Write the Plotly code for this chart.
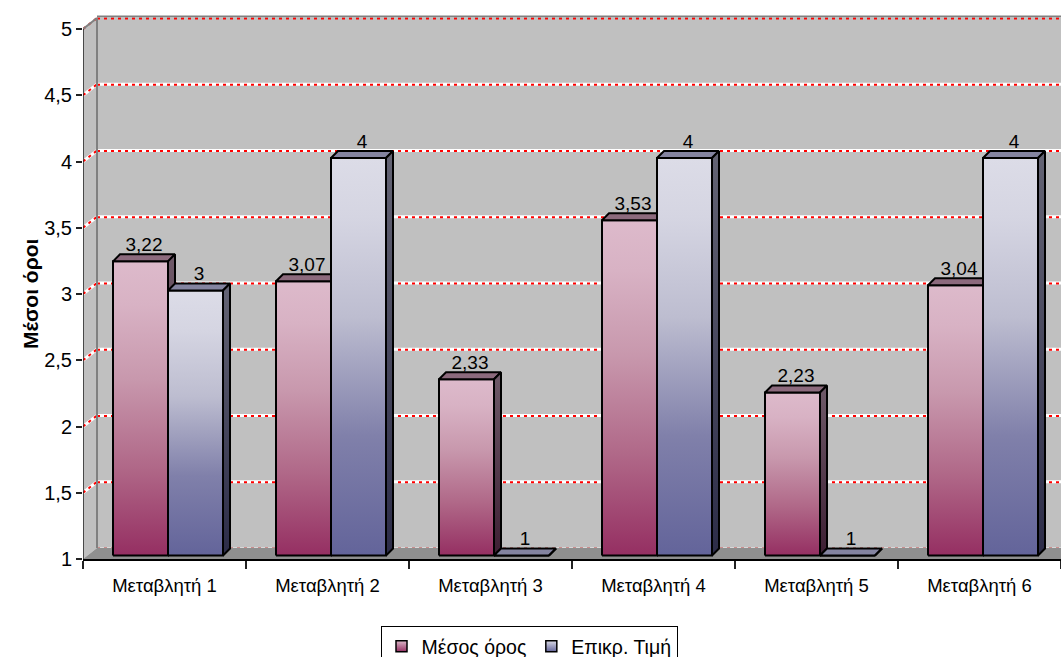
import plotly.graph_objects as go

# ---- data -------------------------------------------------------------
categories = ["Μεταβλητή 1", "Μεταβλητή 2", "Μεταβλητή 3",
              "Μεταβλητή 4", "Μεταβλητή 5", "Μεταβλητή 6"]
mean_values = [3.22, 3.07, 2.33, 3.53, 2.23, 3.04]
critical_values = [3, 4, 1, 4, 1, 4]
series_names = ["Μέσος όρος", "Επικρ. Τιμή"]
y_ticks = [1, 1.5, 2, 2.5, 3, 3.5, 4, 4.5, 5]
y_title = "Μέσοι όροι"

# ---- geometry ---------------------------------------------------------
W, H = 1061, 657
M_L, M_R, M_T, M_B = 83, 0, 14, 98
plot_w = W - M_L - M_R
plot_h = H - M_T - M_B
PX_PER_Y = 132.5                       # pixels per y unit
Y_MIN = 1
Y_MAX = Y_MIN + plot_h / PX_PER_Y
X_MIN, X_MAX = -0.5, len(categories) - 0.5
PX_PER_X = plot_w / (X_MAX - X_MIN)

def dx(px):
    return px / PX_PER_X

def dy(px):
    return px / PX_PER_Y

WALL_DX, WALL_DY = dx(14), dy(11)      # depth of the back wall
FRONT_DX, FRONT_DY = dx(3.5), dy(3.5)  # bars' front plane
BAR_DX, BAR_DY = dx(7), dy(7)          # bar depth
BAR_W = dx(55)

FONT = "Liberation Sans, Arial, sans-serif"

MEAN_FRONT = [[0, "#952f62"], [0.3, "#b06888"], [0.6, "#c898ad"],
              [0.85, "#d8b2c4"], [1, "#ddbacb"]]
CRIT_FRONT = [[0, "#63649a"], [0.3, "#8080aa"], [0.6, "#bdbdd0"],
              [0.85, "#d5d5e2"], [1, "#dcdce7"]]
MEAN_SIDE = [[0, "#3d1f33"], [1, "#6f5a69"]]
CRIT_SIDE = [[0, "#2c2c48"], [1, "#646474"]]
MEAN_TOP = "#8c6a7d"
CRIT_TOP = "#8484a0"

fig = go.Figure()


def poly(xs, ys, fill=None, scale=None, line_color="black", line_width=2):
    kw = dict(x=xs + [xs[0]], y=ys + [ys[0]], mode="lines", fill="toself",
              line=dict(color=line_color, width=line_width),
              hoverinfo="skip", showlegend=False)
    if scale is not None:
        kw["fillgradient"] = dict(type="vertical", colorscale=scale)
    else:
        kw["fillcolor"] = fill
    fig.add_trace(go.Scatter(**kw))


def seg(x0, y0, x1, y1, color, width, dash="solid"):
    fig.add_trace(go.Scatter(x=[x0, x1], y=[y0, y1], mode="lines",
                             line=dict(color=color, width=width, dash=dash),
                             hoverinfo="skip", showlegend=False))


# ---- walls and floor --------------------------------------------------
x0 = X_MIN
wall_top = y_ticks[-1]
# back wall
poly([x0 + WALL_DX, X_MAX, X_MAX, x0 + WALL_DX],
     [Y_MIN + WALL_DY, Y_MIN + WALL_DY, wall_top + WALL_DY, wall_top + WALL_DY],
     fill="#c0c0c0", line_color="rgba(0,0,0,0)", line_width=0)
# side wall
poly([x0, x0 + WALL_DX, x0 + WALL_DX, x0],
     [Y_MIN, Y_MIN + WALL_DY, wall_top + WALL_DY, wall_top],
     fill="#c0c0c0", line_color="rgba(0,0,0,0)", line_width=0)

# gridlines: white band with red dots, on back and side walls
for v in y_ticks:
    yb = v + WALL_DY
    if v == Y_MIN:
        seg(x0 + WALL_DX, yb, X_MAX, yb, "#d8d8d8", 2)
        seg(x0 + WALL_DX, yb, X_MAX, yb, "#c98c8c", 2, "3px,4px")
        continue
    if v != wall_top:
        seg(x0 + WALL_DX, yb, X_MAX, yb, "white", 3)
        seg(x0, v, x0 + WALL_DX, yb, "white", 3)
    seg(x0 + WALL_DX, yb - dy(0.5), X_MAX, yb - dy(0.5), "#ff0000", 2, "3px,4px")
    seg(x0, v, x0 + WALL_DX, yb, "#ff0000", 2, "3px,4px")

# wall edges
seg(x0 + WALL_DX, Y_MIN + WALL_DY, x0 + WALL_DX, wall_top + WALL_DY, "#808080", 2)
seg(x0 + WALL_DX, wall_top + WALL_DY + dy(1.5), X_MAX, wall_top + WALL_DY + dy(1.5),
    "#808080", 2)
seg(x0, wall_top, x0 + WALL_DX, wall_top + WALL_DY, "#808080", 2)

# floor
poly([x0, X_MAX, X_MAX, x0 + WALL_DX],
     [Y_MIN, Y_MIN, Y_MIN + WALL_DY, Y_MIN + WALL_DY],
     fill="#8f8f8f", line_color="rgba(0,0,0,0)", line_width=0)

# front vertical axis line
seg(x0, Y_MIN, x0, wall_top, "#222222", 1.5)


# ---- bars -------------------------------------------------------------
def bar(xl, value, front, side, top):
    xr = xl + BAR_W
    yb = Y_MIN + FRONT_DY
    yt = value + FRONT_DY
    # front face
    poly([xl, xr, xr, xl], [yb, yb, yt, yt], scale=front)
    # top face
    poly([xl, xr, xr + BAR_DX, xl + BAR_DX],
         [yt, yt, yt + BAR_DY, yt + BAR_DY], fill=top)
    # side face
    poly([xr, xr + BAR_DX, xr + BAR_DX, xr],
         [yb, yb + BAR_DY, yt + BAR_DY, yt], scale=side)


def label(v):
    s = f"{v:.2f}".rstrip("0").rstrip(".")
    return s.replace(".", ",")


lab_x, lab_y, lab_t = [], [], []
for i, (m, c) in enumerate(zip(mean_values, critical_values)):
    left = i - BAR_W + FRONT_DX
    bar(left, m, MEAN_FRONT, MEAN_SIDE, MEAN_TOP)
    bar(left + BAR_W, c, CRIT_FRONT, CRIT_SIDE, CRIT_TOP)
    for xl, v in ((left, m), (left + BAR_W, c)):
        lab_x.append(xl + BAR_W / 2 + BAR_DX / 2)
        lab_y.append(v + FRONT_DY + BAR_DY - dy(1.5))
        lab_t.append(label(v))

fig.add_trace(go.Scatter(x=lab_x, y=lab_y, mode="text", text=lab_t,
                         textposition="top center",
                         textfont=dict(family=FONT, size=19, color="black"),
                         hoverinfo="skip", showlegend=False, cliponaxis=False))

# legend entries
for name, col, grad in ((series_names[0], "#ddbacb", "#952f62"),
                        (series_names[1], "#dcdce7", "#63649a")):
    fig.add_trace(go.Scatter(x=[None], y=[None], mode="markers", name=name,
                             marker=dict(symbol="square", size=11, color=col,
                                         gradient=dict(type="vertical", color=grad),
                                         line=dict(color="black", width=1.5))))

# ---- layout -----------------------------------------------------------
fig.update_layout(
    width=W, height=H,
    margin=dict(l=M_L, r=M_R, t=M_T, b=M_B, pad=0, autoexpand=False),
    paper_bgcolor="white", plot_bgcolor="white",
    font=dict(family=FONT, size=18, color="black"),
    showlegend=True,
    legend=dict(orientation="h", x=(529 - M_L) / plot_w, xanchor="center",
                y=(H - M_B - 626) / plot_h, yanchor="top",
                bordercolor="black", borderwidth=1, bgcolor="white",
                font=dict(family=FONT, size=19.5), itemwidth=30,
                tracegroupgap=0),
    xaxis=dict(range=[X_MIN, X_MAX], showgrid=False, zeroline=False,
               tickvals=list(range(len(categories))), ticktext=categories,
               ticks="outside", ticklen=9, tickcolor="rgba(0,0,0,0)",
               showline=True, linecolor="black", linewidth=1.5,
               tickfont=dict(family=FONT, size=18.5),
               minor=dict(tickvals=[k - 0.5 for k in range(len(categories) + 1)],
                          ticks="outside", ticklen=8, tickcolor="#222222",
                          tickwidth=1.5, showgrid=False),
               fixedrange=True),
    yaxis=dict(range=[Y_MIN, Y_MAX], showgrid=False, zeroline=False,
               tickvals=y_ticks, ticktext=[label(v) for v in y_ticks],
               ticks="outside", ticklen=6, tickcolor="#222222", tickwidth=1.5,
               showline=False, tickfont=dict(family=FONT, size=20),
               fixedrange=True),
    annotations=[dict(text=f"<b>{y_title}</b>", textangle=-90,
                      xref="paper", x=(30 - M_L) / plot_w, xanchor="center",
                      yref="y", y=3, yanchor="middle", showarrow=False,
                      font=dict(family=FONT, size=21))],
)

fig.write_html("out.html")
